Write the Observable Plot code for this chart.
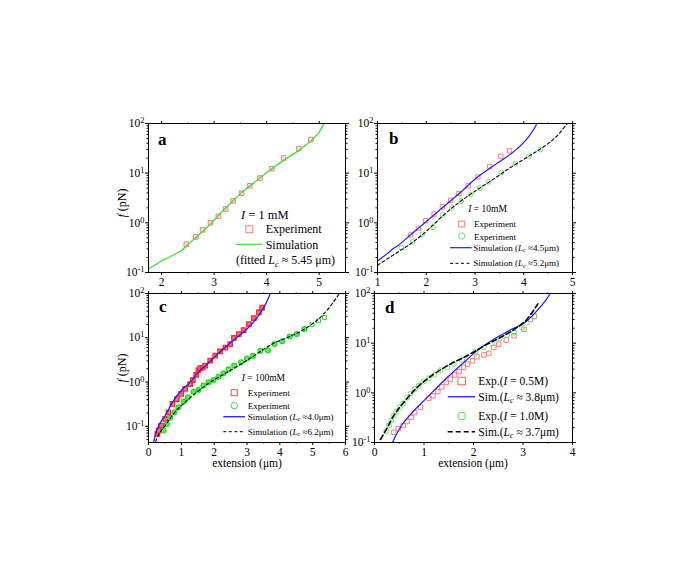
<!DOCTYPE html>
<html><head><meta charset="utf-8">
<script src="https://cdn.jsdelivr.net/npm/d3@7"></script>
<script src="https://cdn.jsdelivr.net/npm/@observablehq/plot@0.6"></script>
<style>
html,body{margin:0;padding:0;background:#fff;}
#fig{position:relative;width:692px;height:586px;overflow:hidden;background:#fff;}
#fig > svg{position:absolute;}
</style></head><body><div id="fig"></div>
<script>
const SERIF = '"Liberation Serif","Times New Roman",Times,serif';

// ---------- Panel a (I = 1 mM) ----------
const aExpX = [2.47,2.65,2.78,2.93,3.08,3.22,3.36,3.52,3.68,3.87,4.10,4.32,4.61,4.84];
const aExpF = [0.37,0.52,0.72,1.0,1.35,1.9,2.77,3.95,5.57,7.96,12.3,20.2,31.2,47.4];
const aSimX = [1.75,1.98,2.17,2.39,2.52,2.74,2.93,3.12,3.31,3.53,3.75,4.01,4.32,4.64,4.86,4.99,5.09];
const aSimF = [0.118,0.167,0.21,0.28,0.385,0.61,0.95,1.56,2.48,4.15,6.3,10.5,18.1,29.8,46,64.6,97];

// ---------- Panel b (I = 10 mM) ----------
const bRedX = [1.68,1.84,1.99,2.16,2.33,2.50,2.67,2.86,3.06,3.30,3.53,3.71];
const bRedF = [0.57,0.78,1.1,1.5,2.1,2.86,3.9,5.56,8.4,13.6,22,28.2];
const bGreenX = [1.49,1.72,1.92,2.14,2.34,2.53,2.72,2.91,3.10,3.28,3.54,3.83,4.11,4.34];
const bGreenF = [0.32,0.42,0.59,0.81,1.45,2.0,2.75,3.7,5.0,6.7,10.3,15.5,22,30];
const bSimAX = [1.0,1.20,1.34,1.41,1.68,2.02,2.36,2.70,3.04,3.38,3.73,3.93,4.10,4.26];
const bSimAF = [0.17,0.24,0.31,0.344,0.575,1.1,2.13,4.08,8.18,14.1,24.2,35.5,54,94];
const bSimBX = [1.0,1.34,1.68,2.02,2.36,2.70,3.04,3.38,3.73,4.07,4.41,4.68,4.88];
const bSimBF = [0.14,0.23,0.38,0.70,1.45,2.7,4.6,7.6,13,21,34,56,97];

// ---------- Panel c (I = 100 mM) ----------
const cRedX = [0.27,0.305,0.386,0.508,0.609,0.731,0.863,0.995,1.117,1.27,1.35,1.45,1.52,1.574,1.65,1.726,1.878,2.03,2.18,2.34,2.49,2.6,2.75,2.9,3.06,3.21,3.36,3.46];
const cRedF = [0.067,0.080,0.104,0.147,0.207,0.32,0.41,0.54,0.70,0.90,1.11,1.45,1.85,2.07,2.1,2.34,3.03,3.93,4.9,6.0,7.2,9.9,12.1,14.9,20.4,27.9,37.3,48];
const cGreenX = [0.46,0.56,0.66,0.79,0.91,1.07,1.20,1.37,1.52,1.675,1.83,1.98,2.13,2.28,2.44,2.61,2.82,3.0,3.18,3.41,3.64,3.84,4.07,4.30,4.52,4.75];
const cGreenF = [0.080,0.113,0.155,0.207,0.27,0.36,0.45,0.6,0.66,0.83,0.98,1.11,1.32,1.57,1.93,2.35,2.78,3.4,3.9,5.1,5.2,7.2,8.3,10.7,12.1,15.7];
const cGreenSqX = [4.98,5.18,5.36];
const cGreenSqF = [19.7,24.2,28.8];
const cSimAX = [0.15,0.25,0.40,0.51,0.71,1.015,1.27,1.52,1.78,2.05,2.39,2.69,3.0,3.31,3.51,3.66,3.71];
const cSimAF = [0.043,0.079,0.135,0.174,0.33,0.67,0.98,1.7,2.5,3.9,6.6,10.2,15.7,28.8,48,81,100];
const cSimBX = [0.22,0.25,0.51,0.81,1.22,1.73,2.34,2.74,3.21,3.81,4.22,4.83,5.33,5.58,5.8];
const cSimBF = [0.045,0.052,0.104,0.21,0.41,0.83,1.57,2.35,3.9,7.5,10,17,34,57,97];

// ---------- Panel d (I = 0.5 M / 1.0 M) ----------
const dRedX = [0.39,0.48,0.58,0.66,0.74,0.81,0.93,1.10,1.18,1.28,1.36,1.45,1.53,1.62,1.71,1.80,1.88,1.98,2.07,2.21,2.31,2.41,2.51,2.66,2.82,3.02,3.15,3.23];
const dRedF = [0.16,0.19,0.22,0.265,0.32,0.40,0.51,0.78,0.87,1.06,1.32,1.62,1.88,2.3,2.69,3.24,3.78,4.4,5.3,5.8,6.2,8.2,9.55,11.5,14.1,19.1,30,35];
const dGreenX = [0.24,0.29,0.34,0.39,0.44,0.51,0.58,0.66,0.73,0.81,0.89,0.99,1.10,1.21,1.33,1.47,1.6,1.77,2.04,2.21,2.37,2.53,2.68,2.82,2.98,3.08,3.23];
const dGreenF = [0.17,0.22,0.28,0.35,0.42,0.51,0.61,0.80,0.97,1.19,1.38,1.69,1.97,2.3,2.86,3.24,3.8,4.6,6.8,8.2,10,12.6,14.7,16.4,20.7,26,34];
const dSimAX = [0.34,0.52,0.73,1.06,1.40,1.73,2.07,2.41,2.74,3.08,3.28,3.45,3.55];
const dSimAF = [0.09,0.2,0.37,0.8,1.75,3.5,7.0,12,18.3,28,44.8,71,100];
const dSimBX = [0.12,0.22,0.39,0.59,0.86,1.20,1.53,1.87,2.21,2.54,2.88,3.08,3.25,3.30];
const dSimBF = [0.115,0.17,0.35,0.64,1.28,2.38,3.78,5.56,8.8,13,20.7,30.4,52,62];

// ---------- ticks ----------
const yMajor = [0.1, 1, 10, 100];
const yMinorMult = [2,3,4,5,6,7,8,9];
const aXTicks = [2,3,4,5], bXTicks = [1,2,3,4,5], cXTicks = [0,1,2,3,4,5,6], dXTicks = [0,1,2,3,4];

const BLUE = "#1f1fff", BLACK = "#000";
const RED_LIGHT = "#ff7a7a", RED = "#ff2a2a";
const GREEN_LINE = "#3fdc3f", GREEN_LIGHT = "#66e866", GREEN = "#22dd22";

function minorY(domain){
  const out = [];
  for (const d of [0.01,0.1,1,10]) for (const m of yMinorMult){ const v=d*m; if (v>=domain[0] && v<=domain[1]) out.push(v); }
  return out;
}
function halves(ticks, domain){
  const out=[]; for (const t of ticks){ const v=t+0.5; if (v>domain[0] && v<domain[1]) out.push(v); }
  if (ticks[0]-0.5>domain[0]) out.push(ticks[0]-0.5);
  return out;
}

function panel({left, top, width, height, mL, mT, mR, mB, xDomain, yDomain, xTicks, marks}){
  const yMaj = yMajor.filter(v => v>=yDomain[0]*0.999 && v<=yDomain[1]*1.001);
  const yMin = minorY(yDomain);
  const xMin = halves(xTicks, xDomain);
  const empty = () => "";
  const chart = Plot.plot({
    width, height, marginLeft:mL, marginTop:mT, marginRight:mR, marginBottom:mB,
    style:{background:"transparent", fontFamily:SERIF, fontSize:"11.5px", color:"black", overflow:"visible"},
    x:{domain:xDomain, axis:null},
    y:{type:"log", domain:yDomain, axis:null},
    marks:[
      ...marks,
      Plot.frame({stroke:"black", strokeWidth:1}),
      Plot.axisX({anchor:"bottom", ticks:xTicks, tickSize:3, tickPadding:2, tickFormat:d=>String(d), label:null}),
      Plot.axisX({anchor:"bottom", ticks:xMin, tickSize:1.5, tickFormat:empty, label:null}),
      Plot.axisX({anchor:"top", ticks:xTicks, tickSize:3, tickFormat:empty, label:null}),
      Plot.axisX({anchor:"top", ticks:xMin, tickSize:1.5, tickFormat:empty, label:null}),
      Plot.axisY({anchor:"left", ticks:yMaj, tickSize:3, tickPadding:1, tickFormat:d=>"10^"+Math.round(Math.log10(d)), label:null}),
      Plot.axisY({anchor:"left", ticks:yMin, tickSize:1.5, tickFormat:empty, label:null}),
      Plot.axisY({anchor:"right", ticks:yMaj, tickSize:3, tickFormat:empty, label:null}),
      Plot.axisY({anchor:"right", ticks:yMin, tickSize:1.5, tickFormat:empty, label:null})
    ]
  });
  d3.select(chart).selectAll('g[aria-label="y-axis tick label"] text').each(function(){
    const m = this.textContent.match(/^10\^(-?\d+)$/);
    if (!m) return;
    const s = d3.select(this);
    s.text("10");
    s.append("tspan").attr("dy","-0.48em").attr("font-size","0.72em").text(m[1]);
  });
  chart.style.left = left+"px"; chart.style.top = top+"px";
  document.getElementById("fig").appendChild(chart);
}

const sq = (X,F,opt) => Plot.dot(X,{x:X, y:F, symbol:"square", strokeWidth:1, ...opt});
const ci = (X,F,opt) => Plot.dot(X,{x:X, y:F, symbol:"circle", strokeWidth:1, ...opt});
const ln = (X,F,opt) => Plot.line(X,{x:X, y:F, clip:true, ...opt});

// a
panel({left:100, top:100, width:260, height:200, mL:48, mT:23, mR:15, mB:28,
  xDomain:[1.75,5.5], yDomain:[0.1,100], xTicks:aXTicks,
  marks:[
    sq(aExpX, aExpF, {r:2.6, stroke:RED_LIGHT, fill:"#ffe0e0"}),
    ln(aSimX, aSimF, {stroke:GREEN_LINE, strokeWidth:1.3})
  ]});
// b
panel({left:330, top:100, width:260, height:200, mL:47, mT:23, mR:18, mB:28,
  xDomain:[1,5], yDomain:[0.1,100], xTicks:bXTicks,
  marks:[
    sq(bRedX, bRedF, {r:2.4, stroke:RED_LIGHT, fill:"none"}),
    ci(bGreenX, bGreenF, {r:2.4, stroke:GREEN_LIGHT, fill:"none"}),
    ln(bSimAX, bSimAF, {stroke:BLUE, strokeWidth:1.2, curve:"monotone-x"}),
    ln(bSimBX, bSimBF, {stroke:BLACK, strokeWidth:1.1, strokeDasharray:"3,2.5", curve:"monotone-x"})
  ]});
// c
panel({left:100, top:283, width:260, height:180, mL:48, mT:10, mR:15, mB:21,
  xDomain:[0,6], yDomain:[0.043,100], xTicks:cXTicks,
  marks:[
    sq(cRedX, cRedF, {r:2.5, stroke:RED, strokeWidth:1.3, fill:"#ff7070"}),
    ci(cGreenX, cGreenF, {r:2.4, stroke:GREEN, strokeWidth:1.3, fill:"#66ee66"}),
    sq(cGreenSqX, cGreenSqF, {r:2.2, stroke:GREEN, fill:"none"}),
    ln(cSimAX, cSimAF, {stroke:BLUE, strokeWidth:1.3, curve:"monotone-x"}),
    ln(cSimBX, cSimBF, {stroke:BLACK, strokeWidth:1.1, strokeDasharray:"3,2.5", curve:"monotone-x"})
  ]});
// d
panel({left:330, top:283, width:260, height:180, mL:44, mT:10, mR:18, mB:21,
  xDomain:[0,4], yDomain:[0.1,100], xTicks:dXTicks,
  marks:[
    sq(dRedX, dRedF, {r:2.5, stroke:RED_LIGHT, fill:"none"}),
    ci(dGreenX, dGreenF, {r:2.5, stroke:GREEN_LIGHT, fill:"none"}),
    ln(dSimAX, dSimAF, {stroke:BLUE, strokeWidth:1.2, curve:"monotone-x"}),
    ln(dSimBX, dSimBF, {stroke:BLACK, strokeWidth:1.6, strokeDasharray:"5,3", curve:"monotone-x"})
  ]});

// ---------- annotations: titles, panel letters, legends ----------
const ov = d3.create("svg").attr("width",692).attr("height",586)
  .style("left","0px").style("top","0px").style("pointer-events","none")
  .attr("font-family", SERIF);

function txt(x, y, segs, size, opt={}){
  const t = ov.append("text").attr("x",x).attr("y",y).attr("font-size",size).attr("fill","black");
  if (opt.weight) t.attr("font-weight",opt.weight);
  if (opt.anchor) t.attr("text-anchor",opt.anchor);
  if (opt.transform) t.attr("transform",opt.transform);
  for (const s of segs){
    if (typeof s === "string"){ t.append("tspan").text(s); continue; }
    const sp = t.append("tspan").text(s.t);
    if (s.i) sp.attr("font-style","italic");
    if (s.sub){ sp.attr("dy", size*0.22).attr("font-size", size*0.7); }
    if (s.back){ sp.attr("dy", -size*0.22); }
  }
  return t;
}
const Lc = (rest) => [{t:"L",i:true},{t:"c",i:true,sub:true},{t:rest,back:true}];

// axis titles
txt(0, 0, [{t:"f",i:true}," (pN)"], 12, {anchor:"middle", transform:"translate(126,203) rotate(-90)"});
txt(0, 0, [{t:"f",i:true}," (pN)"], 12, {anchor:"middle", transform:"translate(126,368) rotate(-90)"});
txt(247, 467, ["extension (μm)"], 11.5, {anchor:"middle"});
txt(473, 467, ["extension (μm)"], 11.5, {anchor:"middle"});

// panel letters
txt(158, 145, ["a"], 17, {weight:"bold"});
txt(389, 143.5, ["b"], 17, {weight:"bold"});
txt(159, 312, ["c"], 17, {weight:"bold"});
txt(385, 312.5, ["d"], 17, {weight:"bold"});

function legSquare(cx, cy, s, stroke){ ov.append("rect").attr("x",cx-s/2).attr("y",cy-s/2).attr("width",s).attr("height",s).attr("fill","none").attr("stroke",stroke).attr("stroke-width",1); }
function legCircle(cx, cy, r, stroke){ ov.append("circle").attr("cx",cx).attr("cy",cy).attr("r",r).attr("fill","none").attr("stroke",stroke).attr("stroke-width",1); }
function legLine(x1, x2, y, stroke, w, dash){ const l=ov.append("line").attr("x1",x1).attr("x2",x2).attr("y1",y).attr("y2",y).attr("stroke",stroke).attr("stroke-width",w); if(dash) l.attr("stroke-dasharray",dash); }

// legend a
txt(241, 219, [{t:"I",i:true}," = 1 mM"], 12.5);
legSquare(249.3, 229.3, 7, RED_LIGHT);
txt(265.7, 233, ["Experiment"], 12);
legLine(235.7, 262.7, 244.3, GREEN_LINE, 1.2);
txt(265.7, 248.5, ["Simulation"], 12);
txt(236, 264, ["(fitted ", ...Lc(" ≈ 5.45 μm)")], 12);

// legend b
txt(468.3, 212, [{t:"I",i:true}," = 10mM"], 9.5);
legSquare(461.7, 224, 6, RED_LIGHT);
txt(474, 227, ["Experiment"], 9);
legCircle(461.7, 236, 3.2, GREEN_LIGHT);
txt(474, 239.5, ["Experiment"], 9);
legLine(450, 471.7, 247.7, BLUE, 1.2);
txt(473.3, 250.5, ["Simulation (", ...Lc(" ≈4.5μm)")], 9);
legLine(450, 471.7, 263.3, BLACK, 1, "3,2.5");
txt(473.3, 266, ["Simulation (", ...Lc(" ≈5.2μm)")], 9);

// legend c
txt(241.7, 381, [{t:"I",i:true}," = 100mM"], 9.5);
legSquare(234.3, 392.7, 6, "#ff5050");
txt(247.7, 395.5, ["Experiment"], 9);
legCircle(234.3, 405.7, 3.2, "#44e044");
txt(247.7, 408.5, ["Experiment"], 9);
legLine(223.3, 245, 416.7, BLUE, 1.3);
txt(247.7, 419.5, ["Simulation (", ...Lc(" ≈4.0μm)")], 9);
legLine(223.3, 245, 431.7, BLACK, 1, "3,2.5");
txt(247.7, 434.5, ["Simulation (", ...Lc(" ≈6.2μm)")], 9);

// legend d
legSquare(461.7, 381, 7.5, "#ff5c5c");
txt(478.3, 385, ["Exp.(", {t:"I",i:true}, " = 0.5M)"], 11.5);
legLine(447.7, 475, 396.7, BLUE, 1.3);
txt(478.3, 400.5, ["Sim.(", ...Lc(" ≈ 3.8μm)")], 11.5);
legCircle(461.7, 416, 3.8, "#4fe04f");
txt(478.3, 420, ["Exp.(", {t:"I",i:true}, " = 1.0M)"], 11.5);
legLine(447.7, 475, 431.7, BLACK, 1.6, "5,3");
txt(478.3, 435.5, ["Sim.(", ...Lc(" ≈ 3.7μm)")], 11.5);

document.getElementById("fig").appendChild(ov.node());
</script></body></html>
